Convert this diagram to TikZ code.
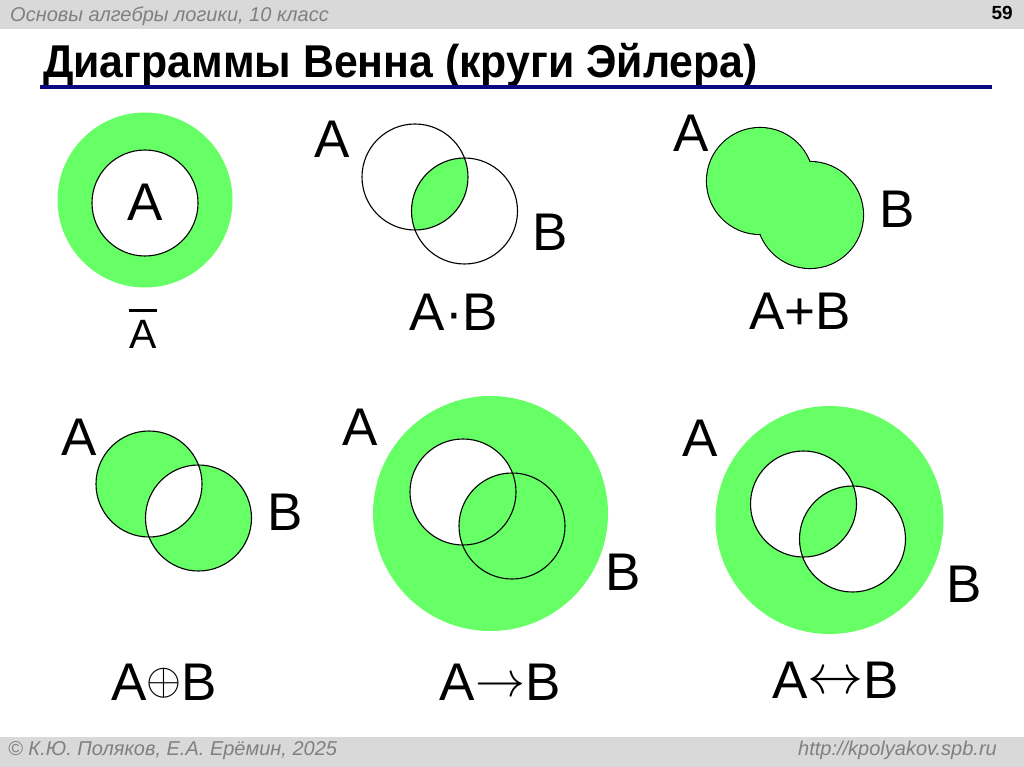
\RequirePackage{fix-cm}
\documentclass[tikz,border=0pt]{standalone}
\usepackage{fontspec}
\setmainfont{Liberation Sans}
\newfontfamily\titlefont[FakeStretch=0.93]{Liberation Sans}
\definecolor{vgreen}{RGB}{102,255,102}
\definecolor{bargray}{RGB}{217,217,217}
\definecolor{txtgray}{RGB}{128,128,128}
\definecolor{titleblue}{RGB}{10,10,128}
\newcommand{\opsym}[3]{\raisebox{#2}{\fontsize{#1}{#1}\selectfont$#3$}}
\begin{document}
\begin{tikzpicture}[x=1pt,y=-1pt,
  venn/.style={draw=black,line width=1.1pt},
  lbl/.style={font=\fontsize{53}{60}\selectfont,inner sep=0,anchor=base},
  smalltxt/.style={font=\fontsize{20}{24}\selectfont\itshape,text=txtgray,inner sep=0}]
\useasboundingbox (0,0) rectangle (1024,767);
\fill[white] (0,0) rectangle (1024,767);
% header and footer
\fill[bargray] (0,0) rectangle (1024,29);
\fill[bargray] (0,737) rectangle (1024,767);
\node[smalltxt,anchor=base west] (hdr) at (10,22) {Основы алгебры логики, 10 класс};
\node[anchor=base east,font=\fontsize{19}{22}\selectfont\bfseries,inner sep=0] (pg) at (1013,20) {59};
\node[anchor=base west,font=\fontsize{46}{50}\selectfont\titlefont\bfseries,inner sep=0] (title) at (43,78) {Диаграммы Венна (круги Эйлера)};
\fill[titleblue] (40,85) rectangle (992,89);
\node[smalltxt,anchor=base west] (copy) at (8,755) {© К.Ю. Поляков, Е.А. Ерёмин, 2025};
\node[smalltxt,anchor=base east] (url) at (997,755) {http://kpolyakov.spb.ru};
% NOT A
\fill[vgreen] (145,200) circle[radius=87.5];
\filldraw[fill=white,venn] (145,203) circle[radius=53];
\node[lbl] (ringA) at (145,221) {A};
\node[lbl,font=\fontsize{41}{46}\selectfont] (notA) at (143,348) {A};
\draw[line width=2.4pt] (129,310.5) -- (157,310.5);
% A AND B
\begin{scope}
  \clip (415,177) circle[radius=53];
  \fill[vgreen] (464.5,211) circle[radius=53];
\end{scope}
\draw[venn] (415,177) circle[radius=53];
\draw[venn] (464.5,211) circle[radius=53];
\node[lbl] (andA) at (332,158) {A};
\node[lbl] (andB) at (550,250) {B};
\node[lbl] (andL) at (454,330) {A·B};
% A OR B
\draw[line width=2.2pt] (760,181) circle[radius=53];
\draw[line width=2.2pt] (810,215) circle[radius=53];
\fill[vgreen] (760,181) circle[radius=53];
\fill[vgreen] (810,215) circle[radius=53];
\node[lbl] (orA) at (691.5,152) {A};
\node[lbl] (orB) at (897.5,228) {B};
\node[lbl] (orL) at (800,329) {A+B};
% XOR
\fill[vgreen] (149,484) circle[radius=53];
\fill[vgreen] (198.5,518) circle[radius=53];
\begin{scope}
  \clip (149,484) circle[radius=53];
  \fill[white] (198.5,518) circle[radius=53];
\end{scope}
\draw[venn] (149,484) circle[radius=53];
\draw[venn] (198.5,518) circle[radius=53];
\node[lbl] (xorA) at (79.5,455) {A};
\node[lbl] (xorB) at (285,530) {B};
\node[lbl] (xorL) at (164,700) {A\opsym{45}{6pt}{\oplus}B};
% IMPLICATION
\fill[vgreen] (490.5,513.5) circle[radius=117.5];
\fill[white] (463,492) circle[radius=53];
\begin{scope}
  \clip (463,492) circle[radius=53];
  \fill[vgreen] (512,526) circle[radius=53];
\end{scope}
\draw[venn] (463,492) circle[radius=53];
\draw[venn] (512,526) circle[radius=53];
\node[lbl] (impA) at (360.5,445) {A};
\node[lbl] (impB) at (623,590) {B};
\node[lbl] (impL) at (500,700) {A\opsym{50}{4pt}{\rightarrow}B};
% EQUIVALENCE
\fill[vgreen] (829.5,520) circle[radius=114];
\fill[white] (803.5,504) circle[radius=53];
\fill[white] (852.5,539) circle[radius=53];
\begin{scope}
  \clip (803.5,504) circle[radius=53];
  \fill[vgreen] (852.5,539) circle[radius=53];
\end{scope}
\draw[venn] (803.5,504) circle[radius=53];
\draw[venn] (852.5,539) circle[radius=53];
\node[lbl] (eqA) at (700.5,456) {A};
\node[lbl] (eqB) at (964,602) {B};
\node[lbl] (eqL) at (835.5,698) {A\opsym{56}{5pt}{\leftrightarrow}B};
\end{tikzpicture}
\end{document}
